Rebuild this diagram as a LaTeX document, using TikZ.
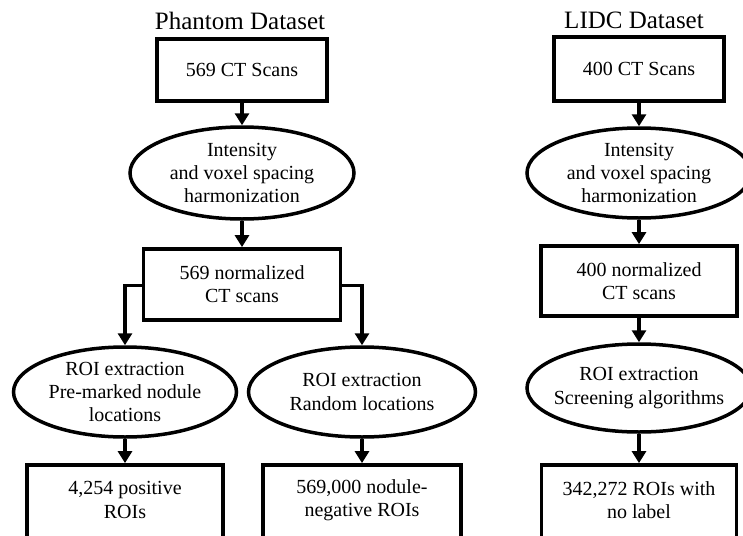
\documentclass[tikz,border=0pt]{standalone}
\usepackage{fontspec}
\setmainfont{Liberation Serif}
\usetikzlibrary{arrows.meta,shapes.geometric}
\tikzset{
  boxnode/.style={draw=black, line width=3.8pt, rectangle, align=center, inner sep=0pt},
  ellnode/.style={draw=black, line width=3.5pt, ellipse, inner sep=0pt},
  txt/.style={align=center, inner sep=0pt, font=\fontsize{20}{23.3}\selectfont},
  ttl/.style={inner sep=0pt, anchor=base, font=\fontsize{25}{30}\selectfont},
  arr/.style={line width=3.5pt, -{Triangle[length=12pt,width=14pt]}},
}
\begin{document}
\begin{tikzpicture}[x=1pt,y=-1pt]
\useasboundingbox (0,0) rectangle (743,535);
% Phantom
\node[ttl] (t1) at (240,30) {Phantom Dataset};
\node[boxnode, minimum width=170pt, minimum height=62pt, txt] (p1) at (242,70) {569 CT Scans};
\node[ellnode, minimum width=224pt, minimum height=92pt] (pe1) at (242,173) {};
\node[txt] (pe1t) at (pe1.center) {Intensity\\and voxel spacing\\harmonization};
\node[boxnode, minimum width=197pt, minimum height=71pt, txt] (p2) at (242,284.5) {569 normalized\\CT scans};
\node[ellnode, minimum width=223pt, minimum height=90pt] (pe3) at (125,392) {};
\node[txt] (pe3t) at (pe3.center) {ROI extraction\\Pre-marked nodule\\locations};
\node[ellnode, minimum width=227pt, minimum height=90pt] (pe4) at (362,392) {};
\node[txt] (pe4t) at (pe4.center) {ROI extraction\\Random locations};
\node[boxnode, minimum width=196pt, minimum height=80pt] (p4) at (125,505) {};
\node[txt] (p4t) at (125,500) {4,254 positive\\ROIs};
\node[boxnode, minimum width=198pt, minimum height=80pt] (p5) at (362,505) {};
\node[txt] (p5t) at (362,500) {569,000 nodule-\\negative ROIs};
\coordinate (pl) at (125,285.5);
\coordinate (pr) at (362,285.5);
\draw[arr] (p1.south) -- (pe1.north);
\draw[arr] (pe1.south) -- (p2.north);
\draw[arr] (p2.west |- pl) -- (pl) -- (pe3.north);
\draw[arr] (p2.east |- pr) -- (pr) -- (pe4.north);
\draw[arr] (pe3.south) -- (p4.north);
\draw[arr] (pe4.south) -- (p5.north);
% LIDC
\node[ttl] (t2) at (634,29) {LIDC Dataset};
\node[boxnode, minimum width=170pt, minimum height=64pt, txt] (l1) at (639,69) {400 CT Scans};
\node[ellnode, minimum width=224pt, minimum height=90pt] (le1) at (639,173) {};
\node[txt] (le1t) at (le1.center) {Intensity\\and voxel spacing\\harmonization};
\node[boxnode, minimum width=196pt, minimum height=70pt, txt] (l2) at (639,281) {400 normalized\\CT scans};
\node[ellnode, minimum width=224pt, minimum height=88pt] (le2) at (639,388) {};
\node[txt] (le2t) at (le2.center) {ROI extraction\\Screening algorithms};
\node[boxnode, minimum width=195pt, minimum height=80pt] (l3) at (639,505) {};
\node[txt] (l3t) at (639,500) {342,272 ROIs with\\no label};
\draw[arr] (l1.south) -- (le1.north);
\draw[arr] (le1.south) -- (l2.north);
\draw[arr] (l2.south) -- (le2.north);
\draw[arr] (le2.south) -- (l3.north);
\end{tikzpicture}
\end{document}
